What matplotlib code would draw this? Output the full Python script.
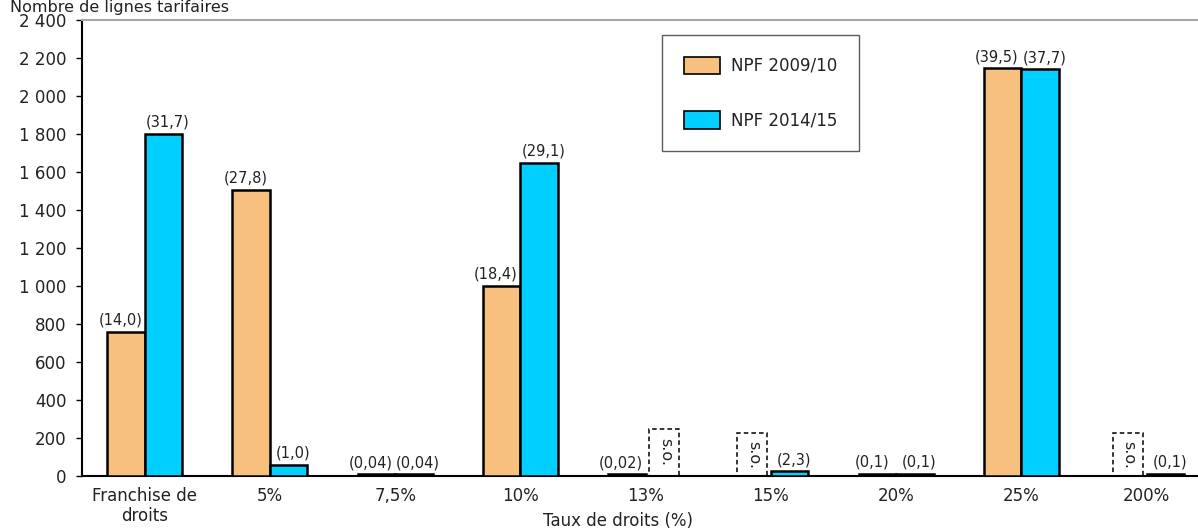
import matplotlib
matplotlib.use("Agg")
import matplotlib.pyplot as plt
from matplotlib.patches import Rectangle
from matplotlib.ticker import FuncFormatter
import numpy as np

categories = ["Franchise de\ndroits", "5%", "7,5%", "10%", "13%", "15%", "20%", "25%", "200%"]
series_names = ["NPF 2009/10", "NPF 2014/15"]
npf_2009 = [760, 1505, 8, 1000, 8, None, 10, 2145, None]
npf_2014 = [1800, 58, 8, 1650, None, 25, 12, 2140, 10]
share_2009 = ["(14,0)", "(27,8)", "(0,04)", "(18,4)", "(0,02)", None, "(0,1)", "(39,5)", None]
share_2014 = ["(31,7)", "(1,0)", "(0,04)", "(29,1)", None, "(2,3)", "(0,1)", "(37,7)", "(0,1)"]
yticks = [0, 200, 400, 600, 800, 1000, 1200, 1400, 1600, 1800, 2000, 2200, 2400]

colors = ["#F8C07E", "#00CFFF"]
font = "DejaVu Sans"
text_color = "#222222"

fig = plt.figure(figsize=(11.98, 5.31), dpi=100)
ax = fig.add_axes([82 / 1198, 1 - 476 / 531, 1 - 82 / 1198, (476 - 20) / 531])

x = np.arange(len(categories))
width = 0.30
offsets = [-width / 2, width / 2]
label_shift = [-4, 3]  # points, keeps neighbouring labels apart

handles = []
for k, (vals, labels) in enumerate([(npf_2009, share_2009), (npf_2014, share_2014)]):
    for i, (v, lab) in enumerate(zip(vals, labels)):
        xpos = x[i] + offsets[k]
        if v is None:
            # "sans objet": dashed empty box with vertical text
            h = 250 if i == 4 else 225
            bw = 0.24
            ax.add_patch(Rectangle((xpos - bw / 2, 0), bw, h, fill=False,
                                   edgecolor="black", linestyle=(0, (3, 2)),
                                   linewidth=1.1, zorder=3))
            ax.text(xpos + 0.01, h / 2, "s.o.", rotation=-90, ha="center", va="center",
                    fontsize=11.5, family=font, color=text_color, zorder=4)
            continue
        ax.bar(xpos, v, width=width, color=colors[k], edgecolor="black",
               linewidth=1.8, zorder=3)
        if lab:
            ax.annotate(lab, (xpos, v), xytext=(label_shift[k], 3),
                        textcoords="offset points", ha="center", va="bottom",
                        fontsize=10.5, family=font, color=text_color)
    handles.append(Rectangle((0, 0), 1, 1, facecolor=colors[k], edgecolor="black",
                             linewidth=1.2))

ax.set_xlim(-0.5, -0.5 + (1198 - 82) / 125.25)
ax.set_ylim(0, 2400)
ax.set_yticks(yticks)
ax.yaxis.set_major_formatter(FuncFormatter(lambda v, p: f"{int(v):,}".replace(",", " ")))
ax.set_xticks(x)
ax.set_xticklabels(categories, family=font, fontsize=12, color=text_color,
                   linespacing=1.1)
ax.tick_params(axis="x", length=0, pad=8)
ax.tick_params(axis="y", length=4, width=1, direction="out", pad=7,
               labelsize=12, labelcolor=text_color)
for lab in ax.get_yticklabels():
    lab.set_family(font)

ax.spines["left"].set_color("black")
ax.spines["left"].set_linewidth(1.5)
ax.spines["bottom"].set_color("black")
ax.spines["bottom"].set_linewidth(1.5)
ax.spines["top"].set_color("#A8A8A8")
ax.spines["top"].set_linewidth(1.5)
ax.spines["right"].set_visible(False)

leg = fig.legend(handles, series_names, loc="upper left",
                 bbox_to_anchor=(662 / 1198, 1 - 35 / 531),
                 frameon=True, fancybox=False, shadow=False,
                 prop={"family": font, "size": 12},
                 handlelength=2.15, handleheight=1.2, labelspacing=2.2,
                 handletextpad=0.7, borderpad=1.3, borderaxespad=0)
leg.get_frame().set_edgecolor("#333333")
leg.get_frame().set_linewidth(1.0)
for t in leg.get_texts():
    t.set_color(text_color)

fig.text(693 / 1198, 1 - 521 / 531, "Taux de droits (%)", ha="right", va="center",
         family=font, fontsize=12, color=text_color)
fig.text(10 / 1198, 1.0, "Nombre de lignes tarifaires", ha="left",
         va="top", family=font, fontsize=11.5, color=text_color)

fig.savefig("out.png", dpi=100)
